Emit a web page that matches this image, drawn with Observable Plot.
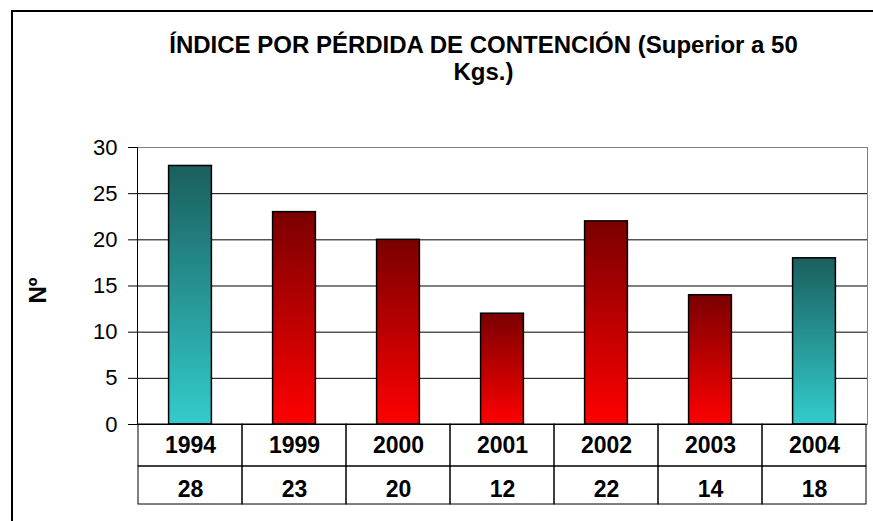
<!DOCTYPE html>
<html><head><meta charset="utf-8">
<script src="https://cdn.jsdelivr.net/npm/d3@7"></script>
<script src="https://cdn.jsdelivr.net/npm/@observablehq/plot@0.6"></script>
<style>
body{margin:0;background:#fff;}
#wrap{position:relative;width:873px;height:521px;overflow:hidden;font-family:"Liberation Sans",Arial,sans-serif;}
#border{position:absolute;left:11px;top:10px;right:0;bottom:0;border-top:2px solid #000;border-left:2px solid #000;pointer-events:none;}
#wrap svg{position:absolute;left:0;top:0;}
#wrap svg g[aria-label^="y-axis"] text {font-size:22px;}
</style></head><body><div id="wrap"><div id="border"></div></div>
<script>
const years = ["1994","1999","2000","2001","2002","2003","2004"];
const values = [28,23,20,12,22,14,18];
const tones = ["teal","red","red","red","red","red","teal"];
const yTicks = [0,5,10,15,20,25,30];
const titleText = "ÍNDICE POR PÉRDIDA DE CONTENCIÓN (Superior a 50\nKgs.)";
const yLabel = "Nº";

const data = years.map((y,i)=>({year:y, value:values[i], tone:tones[i]}));

const gradients = () => {
  const defs = d3.create("svg:defs");
  const add = (id, top, bottom) => {
    const g = defs.append("linearGradient").attr("id", id)
      .attr("x1", 0).attr("y1", 0).attr("x2", 0).attr("y2", 1);
    g.append("stop").attr("offset", "0%").attr("stop-color", top);
    g.append("stop").attr("offset", "100%").attr("stop-color", bottom);
  };
  add("gTeal", "#1b5e5e", "#33cccc");
  add("gRed", "#7a0000", "#ff0000");
  return defs.node();
};

const leftAxisLine = (index, scales, values, dims) => {
  return d3.create("svg:line")
    .attr("x1", dims.marginLeft + 0.5).attr("x2", dims.marginLeft + 0.5)
    .attr("y1", scales.y(30)).attr("y2", scales.y(0))
    .attr("stroke", "black").node();
};

const yAxisMark = Plot.axisY
  ? Plot.axisY({ticks: yTicks, tickSize: 9, tickPadding: 11, label: null, fontSize: 22, fill: "black", stroke: "black"})
  : null;

const chart = Plot.plot({
  width: 873,
  height: 521,
  marginTop: 147,
  marginBottom: 97,
  marginLeft: 137,
  marginRight: 6,
  style: {fontFamily: "'Liberation Sans', Arial, sans-serif", fontSize: "22px", color: "black", background: "transparent", overflow: "visible"},
  x: {type: "band", domain: years, padding: 0, axis: null},
  y: {domain: [0, 30], ticks: yTicks, tickSize: 9, tickPadding: 11, label: null},
  color: {type: "identity"},
  marks: [
    gradients,
    Plot.frame({stroke: "#808080"}),
    Plot.ruleY(yTicks.filter(t => t > 0 && t < 30), {stroke: "black"}),
    Plot.ruleY([0], {stroke: "black"}),
    leftAxisLine,
    yAxisMark,
    Plot.barY(data, {x: "year", y: "value", fill: d => d.tone === "teal" ? "url(#gTeal)" : "url(#gRed)", stroke: "black", strokeWidth: 1.5, insetLeft: 30.6, insetRight: 30.6}),
    Plot.barY(years, {x: d => d, y1: 0, y2: 0, insetBottom: -42, fill: "none", stroke: "black"}),
    Plot.barY(years, {x: d => d, y1: 0, y2: 0, insetTop: 42, insetBottom: -80, fill: "none", stroke: "black"}),
    Plot.text(data, {x: "year", text: "year", frameAnchor: "bottom", lineAnchor: "middle", dy: 21, fontWeight: "bold", fontSize: 23, fill: "black"}),
    Plot.text(data, {x: "year", text: d => String(d.value), frameAnchor: "bottom", lineAnchor: "middle", dy: 65, fontWeight: "bold", fontSize: 23, fill: "black"}),
    Plot.text([titleText], {frameAnchor: "top", dx: -19, dy: -114, lineAnchor: "top", lineHeight: 1.14, fontWeight: "bold", fontSize: 24, fill: "black"}),
    Plot.text([yLabel], {frameAnchor: "left", textAnchor: "middle", lineAnchor: "middle", rotate: -90, dx: -99, dy: 4.5, fontWeight: "bold", fontSize: 24, fill: "black"})
  ].filter(Boolean)
});
document.getElementById("wrap").appendChild(chart);
</script>
</body></html>
